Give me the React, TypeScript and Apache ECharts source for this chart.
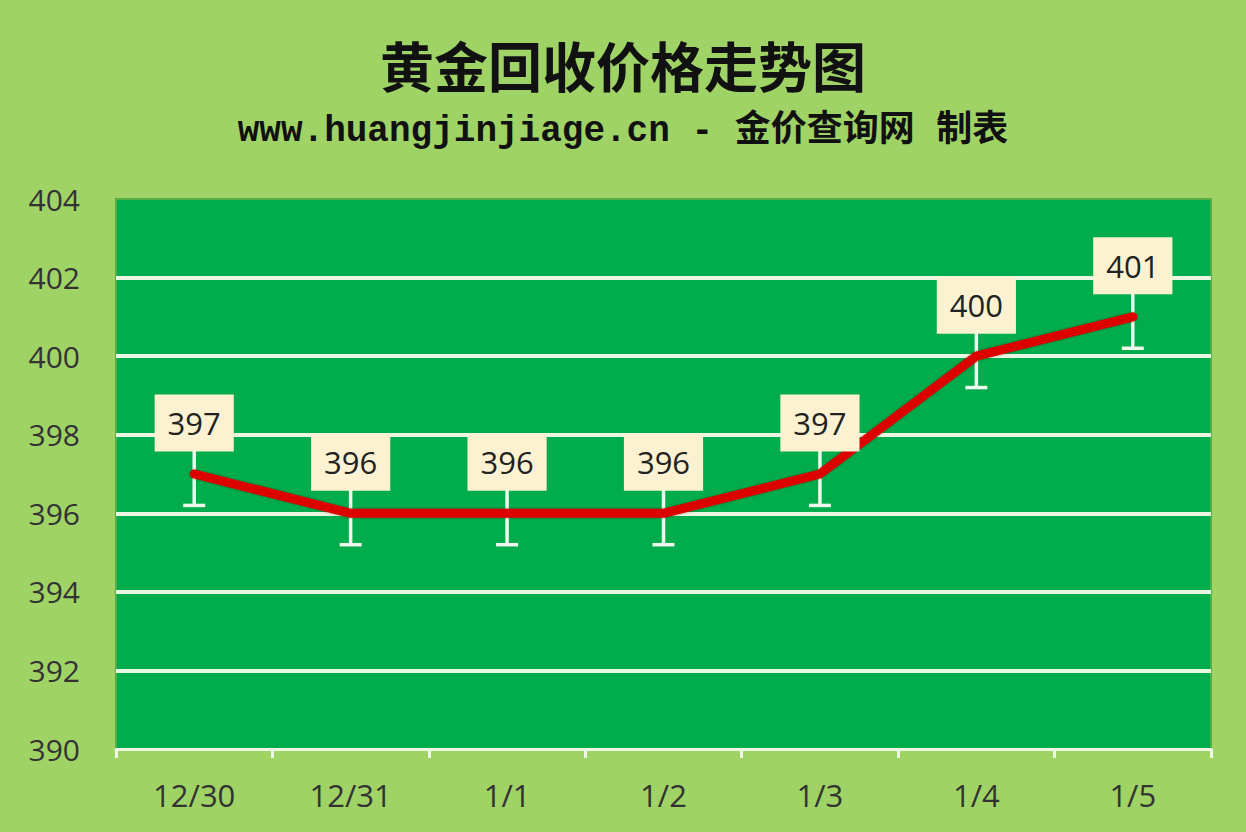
import React, { useEffect, useRef } from "react";
import * as echarts from "echarts";

const dates = ["12/30", "12/31", "1/1", "1/2", "1/3", "1/4", "1/5"];
const prices = [397, 396, 396, 396, 397, 400, 401];
const errorAmount = 0.8;

const App: React.FC = () => {
  const chartRef = useRef<HTMLDivElement>(null);

  useEffect(() => {
    let myChart: echarts.ECharts | null = null;

    if (chartRef.current) {
      myChart = echarts.init(chartRef.current, null, { renderer: "svg" });
      myChart.setOption({
        animation: false,
        backgroundColor: "#A0D366",
        title: [
          {
            text: "黄金回收价格走势图",
            left: "center",
            top: 32,
            textStyle: {
              fontFamily: "Noto Sans CJK SC",
              fontWeight: "bold",
              fontSize: 54,
              color: "#111",
            },
          },
          {
            text: "www.huangjinjiage.cn - 金价查询网 制表",
            left: "center",
            top: 108,
            textStyle: {
              fontFamily: "'Liberation Mono', 'Noto Sans CJK SC'",
              fontWeight: "bold",
              fontSize: 36,
              color: "#111",
            },
          },
        ],
        grid: {
          left: 116,
          right: 35,
          top: 199,
          bottom: 83,
          show: true,
          backgroundColor: "#00AC4B",
          borderColor: "#58AE45",
          borderWidth: 2,
        },
        xAxis: {
          type: "category",
          data: dates,
          boundaryGap: true,
          axisLine: { lineStyle: { color: "#EEF6E6", width: 3 } },
          axisTick: {
            show: true,
            length: 9,
            lineStyle: { color: "#EEF6E6", width: 3 },
          },
          axisLabel: {
            margin: 30,
            fontSize: 31,
            color: "#333",
            fontFamily: "'Open Sans'",
          },
        },
        yAxis: {
          type: "value",
          min: 390,
          max: 404,
          interval: 2,
          axisLine: { show: false },
          axisTick: { show: false },
          axisLabel: {
            margin: 36,
            fontSize: 30,
            color: "#333",
            fontFamily: "'Open Sans'",
          },
          splitLine: {
            show: true,
            lineStyle: { color: "#EAF6E2", width: 4 },
            showMaxLine: false,
            showMinLine: false,
          },
        },
        series: [
          {
            type: "custom",
            z: 1,
            data: prices.map((v, i) => [i, v - errorAmount, v + errorAmount]),
            renderItem: (params: any, api: any) => {
              const x = api.value(0);
              const low = api.coord([x, api.value(1)]);
              const high = api.coord([x, api.value(2)]);
              const half = 11;
              const style = { stroke: "#EEF8EC", lineWidth: 3.5 };
              return {
                type: "group",
                children: [
                  {
                    type: "line",
                    shape: { x1: low[0], y1: low[1], x2: high[0], y2: high[1] },
                    style,
                  },
                  {
                    type: "line",
                    shape: { x1: low[0] - half, y1: low[1], x2: low[0] + half, y2: low[1] },
                    style,
                  },
                  {
                    type: "line",
                    shape: { x1: high[0] - half, y1: high[1], x2: high[0] + half, y2: high[1] },
                    style,
                  },
                ],
              };
            },
          },
          {
            type: "line",
            z: 3,
            data: prices,
            showSymbol: true,
            symbol: "circle",
            symbolSize: 1,
            itemStyle: { color: "#DD0000" },
            lineStyle: {
              color: "#DD0000",
              width: 9,
              cap: "round",
              join: "round",
              shadowColor: "rgba(90,0,0,0.5)",
              shadowBlur: 2,
            },
            label: {
              show: true,
              position: "top",
              distance: 22,
              fontSize: 31,
              lineHeight: 37,
              color: "#222",
              fontFamily: "'Open Sans'",
              backgroundColor: "#FCF2D2",
              padding: [10, 13, 10, 13],
            },
          },
        ],
      });
    }

    return () => {
      if (myChart !== null) {
        myChart.dispose();
      }
    };
  }, []);

  return (
    <div
      ref={chartRef}
      style={{ position: "absolute", left: 0, top: 0, width: 1246, height: 832 }}
    />
  );
};

export default App;
